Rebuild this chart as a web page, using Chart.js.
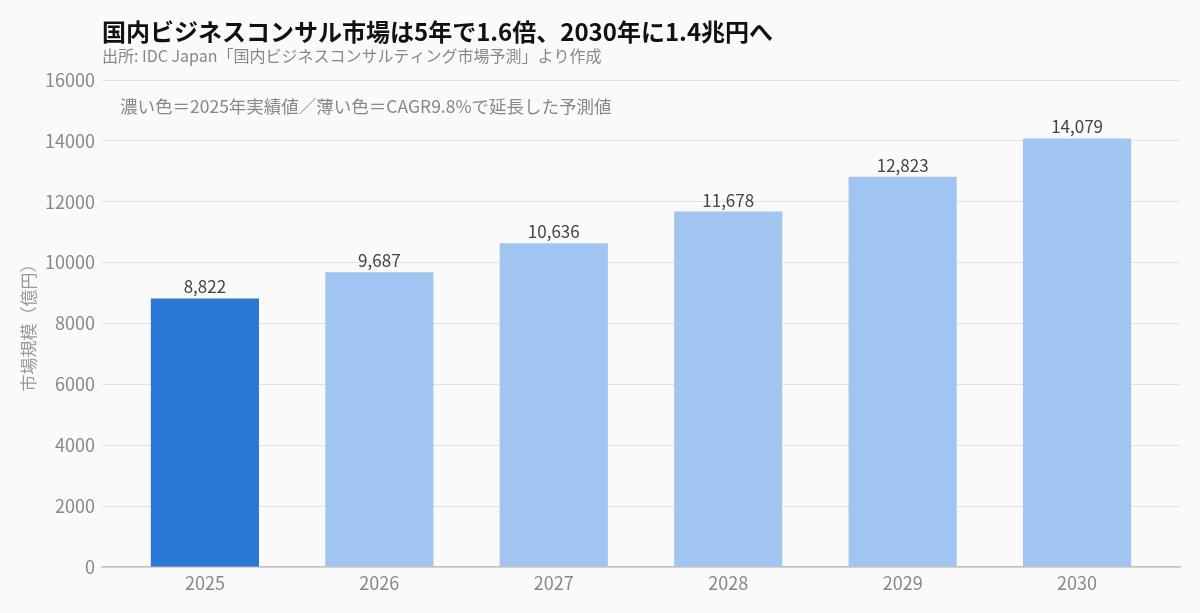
<!DOCTYPE html>
<html lang="ja">
<head>
<meta charset="utf-8">
<title>国内ビジネスコンサル市場</title>
<script src="https://cdn.jsdelivr.net/npm/chart.js@4"></script>
<style>
  html, body { margin: 0; padding: 0; background: #fafafa; }
  #wrap { width: 1200px; height: 613px; position: relative; }
</style>
</head>
<body>
<div id="wrap"><canvas id="myChart"></canvas></div>
<script>
// market size, 100M yen
const years = [2025, 2026, 2027, 2028, 2029, 2030];
const marketSize = [8822, 9687, 10636, 11678, 12823, 14079];
const yTicks = [0, 2000, 4000, 6000, 8000, 10000, 12000, 14000, 16000];

const FONT = "'Noto Sans CJK JP', 'Noto Sans', sans-serif";

// titles + note + value labels
const textPlugin = {
  id: 'texts',
  afterDatasetsDraw(chart) {
    const ctx = chart.ctx;
    const area = chart.chartArea;
    ctx.save();
    ctx.textBaseline = 'middle';
    ctx.textAlign = 'left';
    ctx.fillStyle = '#111';
    ctx.font = 'bold 24px ' + FONT;
    ctx.fillText('国内ビジネスコンサル市場は5年で1.6倍、2030年に1.4兆円へ', area.left, 32);
    ctx.fillStyle = '#888';
    ctx.font = '16px ' + FONT;
    ctx.fillText('出所: IDC Japan「国内ビジネスコンサルティング市場予測」より作成', area.left, 56);
    ctx.font = '17.5px ' + FONT;
    ctx.fillStyle = '#888';
    ctx.fillText('濃い色＝2025年実績値／薄い色＝CAGR9.8%で延長した予測値', area.left + 18, 106);

    // value labels
    ctx.textAlign = 'center';
    ctx.textBaseline = 'bottom';
    ctx.fillStyle = '#444';
    ctx.font = '17px ' + FONT;
    chart.getDatasetMeta(0).data.forEach((bar, i) => {
      ctx.fillText(marketSize[i].toLocaleString('en-US'), bar.x, bar.y - 3);
    });
    ctx.restore();
  }
};

new Chart(document.getElementById('myChart'), {
  type: 'bar',
  data: {
    datasets: [{
      data: years.map((y, i) => ({ x: y, y: marketSize[i] })),
      backgroundColor: c => c.dataIndex === 0 ? '#2a78d6' : '#a0c5f1',
      categoryPercentage: 1,
      barPercentage: 0.62
    }]
  },
  options: {
    responsive: true,
    maintainAspectRatio: false,
    animation: false,
    layout: { padding: { top: 80, right: 20, left: 0, bottom: 0 } },
    plugins: {
      legend: { display: false },
      tooltip: { enabled: false }
    },
    scales: {
      x: {
        type: 'linear',
        offset: false,
        min: 2024.41,
        max: 2030.59,
        afterBuildTicks: s => { s.ticks = years.map(v => ({ value: v })); },
        afterFit: s => { s.height = 46; },
        grid: { display: false, drawTicks: false },
        border: { display: true, color: '#c4c4c4', width: 1.5 },
        ticks: {
          color: '#888',
          padding: 5,
          font: { family: FONT, size: 18 },
          callback: v => String(v)
        }
      },
      y: {
        min: 0,
        max: 16000,
        afterBuildTicks: s => { s.ticks = yTicks.map(v => ({ value: v })); },
        afterFit: s => { s.width = 102; },
        grid: { color: '#e2e2e2', drawTicks: false },
        border: { display: false },
        ticks: {
          color: '#888',
          padding: 7,
          font: { family: FONT, size: 18 },
          callback: v => String(v)
        },
        title: {
          display: true,
          text: '市場規模（億円）',
          color: '#999',
          font: { family: FONT, size: 17 },
          padding: { top: 18, bottom: 0 }
        }
      }
    }
  },
  plugins: [textPlugin]
});
</script>
</body>
</html>
